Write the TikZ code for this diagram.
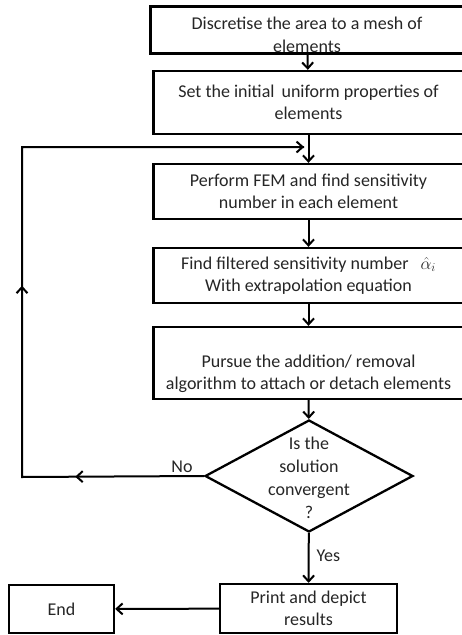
\documentclass[tikz,border=0pt]{standalone}
\usepackage{fontspec}
\setmainfont{Carlito}
\usetikzlibrary{shapes.geometric,arrows.meta,decorations.markings}
\tikzset{mytip/.tip={Straight Barb[length=6pt,width=11pt,line width=2pt]}}
\begin{document}
\begin{tikzpicture}[x=1pt,y=-1pt,
  box/.style={draw=black, line width=2.3pt, rectangle, inner sep=0pt, align=center,
     font=\fontsize{18}{22.5}\selectfont, text=black!85},
  txt/.style={align=center, inner sep=0pt, font=\fontsize{18}{22.5}\selectfont, text=black!85},
  conn/.style={line width=2pt, -mytip},
  plain/.style={line width=2pt}
]
\useasboundingbox (0,0) rectangle (462,635);
\clip (0,0) rectangle (462,635);
\fill[white] (0,0) rectangle (462,635);

\node[box, minimum width=313pt, minimum height=47pt] (b1) at (307,30) {};
\node[txt] (t1) at (307,35) {Discretise the area to a mesh of\\elements};
\node[box, minimum width=310pt, minimum height=63pt] (b2) at (308.5,102.5)
  {Set the initial \,uniform properties of\\elements};
\node[box, minimum width=310pt, minimum height=55pt] (b3) at (308.5,191.5)
  {Perform FEM and find sensitivity\\number in each element};
\node[box, minimum width=310pt, minimum height=55pt] (b4) at (308.5,275.5)
  {Find filtered sensitivity number \;\,$\hat{\alpha}_i$\\With extrapolation equation};
\node[box, minimum width=310pt, minimum height=72pt] (b5) at (308.5,363) {};
\node[txt] (t5) at (308.5,374) {Pursue the addition/ removal\\algorithm to attach or detach elements};

\node[draw=black, line width=2.3pt, diamond, minimum width=208pt, minimum height=112pt,
      inner sep=0pt] (d) at (309,476) {};
\node[txt, font=\fontsize{18}{23}\selectfont] (dt) at (309,478) {Is the\\solution\\convergent\\?};

\node[box, minimum width=177pt, minimum height=49pt] (pr) at (308.5,608.5)
  {Print and depict\\results};
\node[box, minimum width=105pt, minimum height=48pt] (en) at (61.5,609) {End};

\coordinate (m) at (308,147);
\coordinate (nl) at (22,477);
\coordinate (nu) at (22,147);
\coordinate (mt) at (304,147);

\draw[conn] (b1) -- (b2);
\draw[conn] (b2) -- (b3);
\draw[conn] (b3) -- (b4);
\draw[conn] (b4) -- (b5);
\draw[conn] (b5) -- (d);
\draw[conn] (d) -- (pr) node[txt, pos=0.45, right=7pt] (yes) {Yes};
\draw[conn] (pr) -- (en);
\draw[plain, postaction=decorate, decoration={markings,
    mark=at position 0.162 with {\arrow{mytip}},
    mark=at position 0.47 with {\arrow{mytip}}}]
  (d.west) -- (nl) -- (nu) -- (mt);
\draw[conn] (nu) -- (mt);
\node[txt] (no) at (182,467) {No};
\end{tikzpicture}
\end{document}
